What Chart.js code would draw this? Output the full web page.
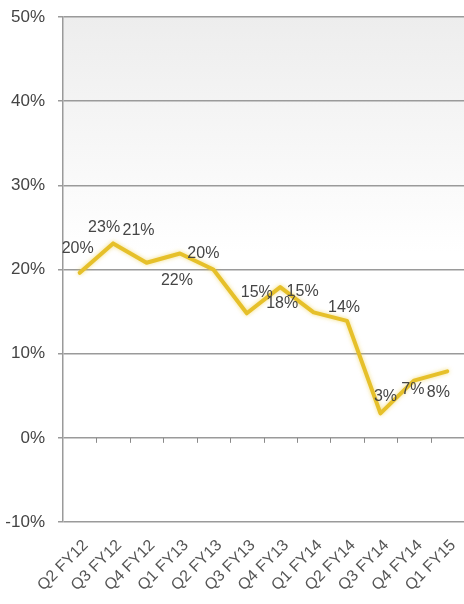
<!DOCTYPE html>
<html>
<head>
<meta charset="utf-8">
<script src="https://cdn.jsdelivr.net/npm/chart.js@4/dist/chart.umd.min.js"></script>
<style>
  html, body { margin: 0; padding: 0; background: #fff; }
  #wrap { width: 464px; height: 604px; position: relative; }
</style>
</head>
<body>
<div id="wrap"><canvas id="chart"></canvas></div>
<script>
// Datos del gráfico
const quarters = ["Q2 FY12", "Q3 FY12", "Q4 FY12", "Q1 FY13", "Q2 FY13", "Q3 FY13",
  "Q4 FY13", "Q1 FY14", "Q2 FY14", "Q3 FY14", "Q4 FY14", "Q1 FY15"];
const growth = [19.6, 23.1, 20.8, 21.9, 20.0, 14.8, 17.9, 14.9, 13.9, 2.9, 6.8, 7.9];
const yMin = -10;
const yMax = 50;
const yStep = 10;

// Desplazamiento de cada etiqueta respecto a su punto (px)
const labelOffsets = [
  [-2, -24], [-9, -16], [-8, -32], [-3, 27], [-10, -16], [10, -21],
  [2, 16], [-11, -21], [-3, -13], [5, -17], [-1, 9], [-9, 21],
];

const lineColor = "#e6c02a";
const fontFamily = "'Liberation Sans', Arial, sans-serif";

// Fondo degradado del área del gráfico
const bgPlugin = {
  id: "bg",
  beforeDraw: (chart) => {
    const { ctx, chartArea } = chart;
    const yEnd = chart.scales.y.getPixelForValue(22);
    const g = ctx.createLinearGradient(0, chartArea.top, 0, yEnd);
    g.addColorStop(0, "#ededed");
    g.addColorStop(1, "#ffffff");
    ctx.save();
    ctx.fillStyle = g;
    ctx.fillRect(chartArea.left, chartArea.top, chartArea.right - chartArea.left, yEnd - chartArea.top);
    ctx.restore();
  },
};

// Marcas en la línea del 0%
const zeroTicks = {
  id: "zeroTicks",
  afterDatasetsDraw: (chart) => {
    const { ctx } = chart;
    const x = chart.scales.x;
    const y0 = chart.scales.y.getPixelForValue(0);
    ctx.save();
    ctx.strokeStyle = "#8a8a8a";
    ctx.lineWidth = 1;
    for (let i = 1; i < quarters.length; i++) {
      const px = Math.round((x.getPixelForValue(i - 1) + x.getPixelForValue(i)) / 2) + 0.5;
      ctx.beginPath();
      ctx.moveTo(px, y0);
      ctx.lineTo(px, y0 + 5);
      ctx.stroke();
    }
    ctx.restore();
  },
};

// Sombra suave de la línea
const glow = {
  id: "glow",
  beforeDatasetDraw: (chart) => {
    const ctx = chart.ctx;
    ctx.save();
    ctx.shadowColor = "rgba(235, 200, 50, 0.6)";
    ctx.shadowBlur = 4;
  },
  afterDatasetDraw: (chart) => {
    chart.ctx.restore();
  },
};

// Etiquetas de valores
const valueLabels = {
  id: "valueLabels",
  afterDatasetsDraw: (chart) => {
    const { ctx } = chart;
    const meta = chart.getDatasetMeta(0);
    ctx.save();
    ctx.font = "16px " + fontFamily;
    ctx.fillStyle = "#454545";
    ctx.textAlign = "center";
    ctx.textBaseline = "middle";
    meta.data.forEach((pt, i) => {
      const off = labelOffsets[i];
      ctx.fillText(Math.round(growth[i]) + "%", pt.x + off[0], pt.y + off[1]);
    });
    ctx.restore();
  },
};

new Chart(document.getElementById("chart"), {
  type: "line",
  data: {
    labels: quarters,
    datasets: [
      {
        data: growth,
        borderColor: lineColor,
        borderWidth: 4,
        pointRadius: 0,
        tension: 0,
        borderJoinStyle: "round",
        borderCapStyle: "round",
      },
    ],
  },
  options: {
    responsive: true,
    maintainAspectRatio: false,
    animation: false,
    layout: { padding: { top: 17, right: 0, left: 0, bottom: 0 } },
    plugins: {
      legend: { display: false },
      tooltip: { enabled: false },
    },
    scales: {
      x: {
        offset: true,
        grid: { display: false, drawTicks: false },
        border: { display: false },
        ticks: {
          color: "#555",
          font: { size: 16, family: fontFamily },
          minRotation: 45,
          maxRotation: 45,
          padding: 14,
          labelOffset: 6,
          autoSkip: false,
        },
        afterFit: (s) => {
          s.height = 82;
          s.paddingLeft = 0;
          s.paddingRight = 0;
        },
      },
      y: {
        min: yMin,
        max: yMax,
        ticks: {
          stepSize: yStep,
          color: "#444",
          padding: 13,
          font: { size: 17, family: fontFamily },
          callback: (v) => v + "%",
        },
        grid: { color: "#9a9a9a", lineWidth: 1.5, tickLength: 5 },
        border: { color: "#9a9a9a", width: 1.5 },
        afterFit: (s) => {
          s.width = 63;
          s.paddingTop = 0;
          s.paddingBottom = 0;
        },
      },
    },
  },
  plugins: [bgPlugin, zeroTicks, glow, valueLabels],
});
</script>
</body>
</html>
